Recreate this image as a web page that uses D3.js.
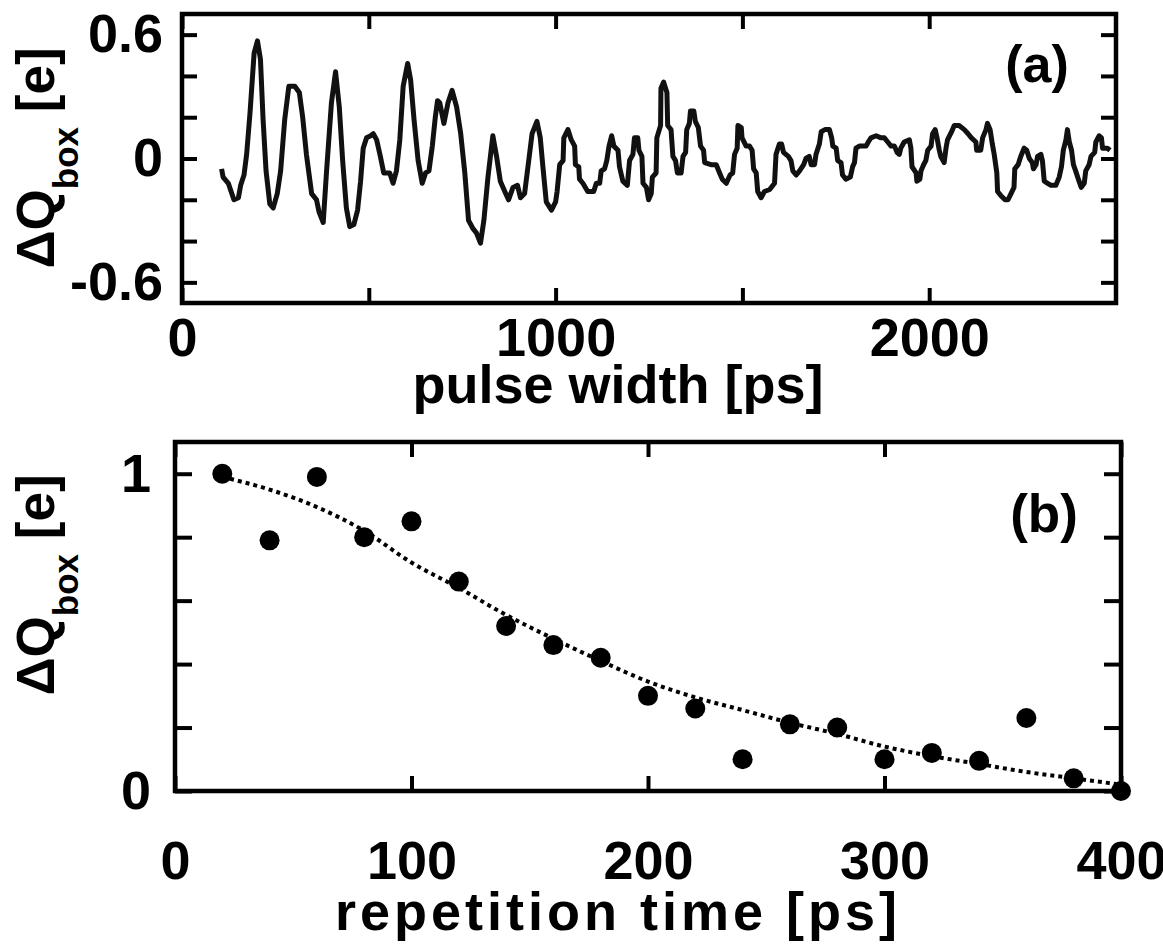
<!DOCTYPE html>
<html>
<head>
<meta charset="UTF-8">
<title>Charge oscillation vs pulse width / repetition time</title>
<script src="https://cdn.jsdelivr.net/npm/d3@7"></script>
<style>
  body { margin: 0; background: #fff; }
  text { font-family: "Liberation Sans", Arial, Helvetica, sans-serif; font-weight: bold; fill: #000; }
</style>
</head>
<body>
<div id="chart"></div>
<script>
// panel (a): charge vs pulse width
const pulseWidth = [106,110,124,139,151,157,166,173,182,193,202,210,217,225,235,244,255,264,275,286,
  302,314,323,333,347,360,367,378,387,400,411,421,430,440,449,460,470,478,485,494,
  505,512,521,531,540,556,565,574,583,592,604,612,621,632,643,652,661,670,678,684,
  690,701,712,723,735,746,757,767,779,788,799,808,819,832,842,852,864,874,886,898,
  906,917,926,937,950,959,966,975,989,1000,1004,1011,1020,1022,1033,1042,1051,1053,1062,1064,
  1073,1086,1102,1109,1118,1122,1131,1137,1143,1150,1156,1167,1171,1180,1192,1198,1207,1211,1220,1223,
  1231,1234,1243,1249,1256,1259,1269,1271,1281,1282,1289,1298,1300,1309,1314,1321,1326,1336,1341,1348,
  1351,1358,1361,1370,1374,1382,1388,1396,1399,1416,1430,1439,1446,1457,1467,1474,1479,1486,1488,1497,
  1499,1510,1519,1526,1530,1537,1541,1550,1559,1573,1586,1590,1599,1605,1610,1623,1630,1635,1644,1653,
  1664,1670,1679,1684,1693,1697,1706,1711,1721,1733,1739,1742,1751,1755,1764,1768,1777,1789,1795,1800,
  1804,1813,1831,1837,1844,1858,1871,1880,1889,1898,1907,1914,1920,1924,1933,1947,1951,1954,1965,1967,
  1975,1978,1985,1991,1996,2005,2009,2016,2021,2027,2031,2040,2045,2049,2060,2067,2080,2094,2104,2113,
  2125,2127,2138,2143,2152,2156,2163,2169,2174,2181,2183,2192,2203,2211,2219,2227,2229,2238,2245,2254,
  2261,2268,2276,2279,2286,2290,2299,2303,2308,2317,2326,2339,2348,2354,2359,2366,2370,2375,2381,2386,
  2392,2401,2407,2415,2419,2428,2433,2443,2446,2455,2461,2464,2477,2484];
const dqPulse = [-0.05,-0.09,-0.12,-0.20,-0.19,-0.13,-0.08,0.02,0.22,0.51,0.57,0.48,0.19,-0.06,-0.22,-0.24,-0.17,-0.06,0.19,0.35,
  0.35,0.32,0.20,0.02,-0.17,-0.20,-0.26,-0.31,-0.06,0.27,0.42,0.25,-0.01,-0.24,-0.33,-0.32,-0.25,-0.11,0.05,0.10,
  0.11,0.12,0.09,0.01,-0.07,-0.07,-0.12,-0.06,0.09,0.35,0.46,0.38,0.19,-0.01,-0.12,-0.07,-0.06,0.06,0.20,0.28,
  0.27,0.17,0.27,0.33,0.25,0.12,-0.07,-0.30,-0.34,-0.36,-0.41,-0.30,-0.09,0.11,0.01,-0.11,-0.16,-0.20,-0.14,-0.13,
  -0.19,-0.17,-0.04,0.12,0.18,0.10,-0.04,-0.21,-0.25,-0.21,-0.16,-0.03,-0.01,0.10,0.14,0.09,0.06,-0.03,-0.04,-0.10,
  -0.12,-0.16,-0.16,-0.12,-0.12,-0.06,-0.05,-0.01,0.06,0.11,0.06,0.04,-0.04,-0.11,-0.13,-0.01,0.02,0.10,0.10,0.04,
  0.01,-0.12,-0.14,-0.20,-0.17,-0.09,-0.07,0.10,0.16,0.34,0.37,0.32,0.16,0.14,0.01,-0.01,-0.07,-0.07,0.01,0.03,
  0.14,0.17,0.23,0.23,0.18,0.15,0.06,0.04,-0.02,-0.03,-0.03,-0.07,-0.10,-0.12,-0.08,-0.07,0.02,0.05,0.16,0.15,
  0.10,0.06,0.06,0.04,-0.05,-0.07,-0.16,-0.19,-0.16,-0.15,-0.12,0.02,0.07,0.07,0.03,0.01,-0.01,-0.06,-0.08,-0.06,
  -0.03,0.00,0.01,-0.03,-0.03,0.02,0.07,0.13,0.14,0.14,0.10,0.06,0.05,-0.01,-0.02,-0.08,-0.10,-0.09,-0.04,-0.02,
  0.05,0.06,0.06,0.08,0.10,0.11,0.10,0.10,0.08,0.06,0.06,0.03,0.02,0.05,0.08,0.09,0.05,-0.04,-0.07,-0.11,
  -0.10,-0.06,-0.03,-0.01,0.04,0.06,0.12,0.14,0.10,0.04,0.01,-0.02,0.05,0.09,0.13,0.16,0.16,0.14,0.12,0.10,
  0.08,0.04,0.04,0.10,0.14,0.17,0.14,0.07,0.02,-0.07,-0.16,-0.18,-0.20,-0.20,-0.17,-0.14,-0.05,-0.03,0.01,0.05,
  0.04,0.00,-0.02,-0.05,-0.03,0.01,0.02,-0.01,-0.11,-0.12,-0.13,-0.13,-0.09,-0.04,0.04,0.09,0.14,0.08,0.04,-0.03,
  -0.06,-0.11,-0.14,-0.12,-0.06,-0.03,0.01,0.03,0.08,0.11,0.10,0.05,0.05,0.04];

// panel (b): measured points and dotted guide
const repTime = [20,40,60,80,100,120,140,160,180,200,220,240,260,280,300,320,340,360,380,400];
const dqRep   = [1.00,0.79,0.99,0.80,0.85,0.66,0.52,0.46,0.42,0.30,0.26,0.10,0.21,0.20,0.10,0.12,0.095,0.23,0.04,0.0];
const fitTime = [20,40,60,80,100,120,140,160,180,200,220,240,260,280,300,320,340,360,380,398];
const fitDq   = [0.99,0.95,0.895,0.82,0.72,0.64,0.555,0.48,0.41,0.345,0.295,0.255,0.215,0.18,0.14,0.11,0.085,0.06,0.04,0.022];

const xTicksA = [0,500,1000,1500,2000];
const xLabelsA = [0,1000,2000];
const yTicksA = [-0.6,-0.4,-0.2,0,0.2,0.4,0.6];
const yLabelsA = [-0.6,0,0.6];
const xTicksB = [0,100,200,300,400];
const yTicksB = [0,0.2,0.4,0.6,0.8,1];
const yLabelsB = [0,1];

const width = 1163, height = 949;
const svg = d3.select("#chart").append("svg")
    .attr("width", width)
    .attr("height", height);
svg.append("rect").attr("width", width).attr("height", height).attr("fill", "#fff");

function yTitle(g, cy) {
    let t = g.append("text")
        .attr("transform", "translate(54," + cy + ") rotate(-90)")
        .attr("text-anchor", "middle")
        .style("font-size", "53px");
    t.append("tspan").text("\u0394Q");
    t.append("tspan").text("box").style("font-size", "35px").attr("dy", 24);
    t.append("tspan").text(" [e]").attr("dy", -24);
}

function styleAxis(g) {
    g.select(".domain").remove();
    g.selectAll(".tick line").attr("stroke", "#000").attr("stroke-width", 4);
    g.selectAll(".tick text")
        .style("font-size", "54px")
        .style("font-family", "'Liberation Sans', Arial, sans-serif")
        .style("font-weight", "bold")
        .attr("fill", "#000");
}

// ---------- panel (a) ----------
let xa = d3.scaleLinear().domain([0, 2500]).range([182, 1116]);
let ya = d3.scaleLinear().domain([-0.7, 0.7]).range([303, 14]);

let ga = svg.append("g");
ga.append("g").attr("transform", "translate(0,303)")
    .call(d3.axisBottom(xa).tickValues(xTicksA).tickSize(-15).tickPadding(15)
        .tickFormat(d => xLabelsA.includes(d) ? String(d) : ""))
    .call(styleAxis);
ga.append("g").attr("transform", "translate(0,14)")
    .call(d3.axisTop(xa).tickValues(xTicksA).tickSize(-15).tickFormat(""))
    .call(styleAxis);
ga.append("g").attr("transform", "translate(182,0)")
    .call(d3.axisLeft(ya).tickValues(yTicksA).tickSize(-15).tickPadding(19)
        .tickFormat(d => yLabelsA.includes(d) ? String(d) : ""))
    .call(styleAxis);
ga.append("g").attr("transform", "translate(1116,0)")
    .call(d3.axisRight(ya).tickValues(yTicksA).tickSize(-15).tickFormat(""))
    .call(styleAxis);

ga.append("path")
    .datum(d3.zip(pulseWidth, dqPulse))
    .attr("fill", "none")
    .attr("stroke", "#111")
    .attr("stroke-width", 5)
    .attr("stroke-linejoin", "round")
    .attr("d", d3.line().x(d => xa(d[0])).y(d => ya(d[1])));

ga.append("rect")
    .attr("x", 182).attr("y", 14).attr("width", 1116 - 182).attr("height", 303 - 14)
    .attr("fill", "none").attr("stroke", "#000").attr("stroke-width", 4.5);

ga.append("text").attr("x", 1037).attr("y", 82).attr("text-anchor", "middle")
    .style("font-size", "52px").text("(a)");
ga.append("text").attr("x", 618).attr("y", 403).attr("text-anchor", "middle")
    .style("font-size", "54px").text("pulse width [ps]");
yTitle(ga, 158);

// ---------- panel (b) ----------
let xb = d3.scaleLinear().domain([0, 400]).range([175, 1121]);
let yb = d3.scaleLinear().domain([0, 1.1]).range([791, 442]);

let gb = svg.append("g");
gb.append("g").attr("transform", "translate(0,791)")
    .call(d3.axisBottom(xb).tickValues(xTicksB).tickSize(-15).tickPadding(50).tickFormat(d => String(d)))
    .call(styleAxis);
gb.append("g").attr("transform", "translate(0,442)")
    .call(d3.axisTop(xb).tickValues(xTicksB).tickSize(-15).tickFormat(""))
    .call(styleAxis);
gb.append("g").attr("transform", "translate(175,0)")
    .call(d3.axisLeft(yb).tickValues(yTicksB).tickSize(-17).tickPadding(24)
        .tickFormat(d => yLabelsB.includes(d) ? String(d) : ""))
    .call(styleAxis);
gb.append("g").attr("transform", "translate(1121,0)")
    .call(d3.axisRight(yb).tickValues(yTicksB).tickSize(-17).tickFormat(""))
    .call(styleAxis);

gb.append("rect")
    .attr("x", 175).attr("y", 442).attr("width", 1121 - 175).attr("height", 791 - 442)
    .attr("fill", "none").attr("stroke", "#000").attr("stroke-width", 4.5);

gb.append("path")
    .datum(d3.zip(fitTime, fitDq))
    .attr("fill", "none")
    .attr("stroke", "#000")
    .attr("stroke-width", 4)
    .attr("stroke-dasharray", "4,4")
    .attr("d", d3.line().curve(d3.curveMonotoneX).x(d => xb(d[0])).y(d => yb(d[1])));

gb.selectAll("circle")
    .data(d3.zip(repTime, dqRep))
    .join("circle")
    .attr("cx", d => xb(d[0]))
    .attr("cy", d => yb(d[1]))
    .attr("r", 10)
    .attr("fill", "#000");

gb.append("text").attr("x", 1044).attr("y", 532).attr("text-anchor", "middle")
    .style("font-size", "53px").text("(b)");
gb.append("text").attr("x", 618).attr("y", 930).attr("text-anchor", "middle")
    .style("font-size", "54px").style("letter-spacing", "4px").text("repetition time [ps]");
yTitle(gb, 585);
</script>
</body>
</html>
